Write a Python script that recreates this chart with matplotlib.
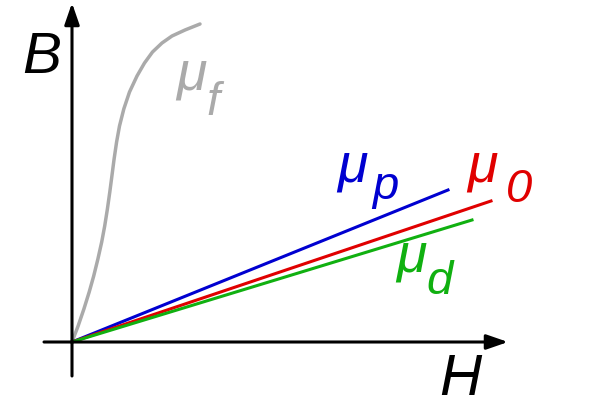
"""Permeability sketch: B against H for ferro-, para-, dia-magnetic and vacuum."""
import matplotlib
matplotlib.use('Agg')
from matplotlib import pyplot as plt

# gray ferromagnetic curve (H, B)
h_f = [0, 6.1, 11.9, 17.2, 21.7, 25.9, 29.7, 32.7, 35.4, 37.8, 39.9, 42.1,
       44.6, 47.5, 51.8, 57.5, 65, 72.5, 80.5, 90, 100, 113, 128]
b_f = [0, 16, 33, 50, 66, 83, 100, 116, 133, 150, 166, 183, 200, 216, 233,
       250, 266, 279, 290, 299, 306, 312, 318]

# straight lines: end point of each (they all start at the origin)
h_p, b_p = [0, 376], [0, 152]
h_0, b_0 = [0, 419], [0, 141]
h_d, b_d = [0, 400], [0, 122]

labels = ['f', 'p', '0', 'd']
colors = ['#aaaaaa', '#0000d0', '#e00000', '#10b010']


def plot():
    fig = plt.figure(figsize=(6, 4.06), dpi=100)
    ax = fig.add_axes([0, 0, 1, 1])
    ax.set_xlim(-72, 528)
    ax.set_ylim(-63, 343)
    ax.axis('off')

    arrow = dict(arrowstyle='-|>,head_length=1.3,head_width=0.45',
                 color='black', lw=2.2, shrinkA=0, shrinkB=0)
    ax.annotate('', xy=(436, 0), xytext=(-28, 0), arrowprops=arrow)
    ax.annotate('', xy=(0, 339), xytext=(0, -34), arrowprops=arrow)

    ax.plot(h_f, b_f, color=colors[0], lw=2.5, solid_capstyle='round',
            solid_joinstyle='round')
    ax.plot(h_p, b_p, color=colors[1], lw=2.2)
    ax.plot(h_0, b_0, color=colors[2], lw=2.2)
    ax.plot(h_d, b_d, color=colors[3], lw=2.2)

    font = dict(family='Liberation Sans', style='italic')
    ax.text(-50, 270, 'B', fontsize=42, va='baseline', **font)
    ax.text(367, -52, 'H', fontsize=42, va='baseline', **font)

    # mu symbols and their subscripts: (mu x, mu baseline, sub x, sub baseline)
    spots = [(104, 254, 134, 228), (265, 161, 300, 144),
             (395, 161, 434, 141), (324, 72, 354, 49)]
    for (mx, my, sx, sy), lab, c in zip(spots, labels, colors):
        ax.text(mx, my, '\u03bc', fontsize=40, color=c, va='baseline', **font)
        ax.text(sx, sy, lab, fontsize=34, color=c, va='baseline', **font)

    fig.savefig('out.png', dpi=100)


if __name__ == '__main__':
    plot()
